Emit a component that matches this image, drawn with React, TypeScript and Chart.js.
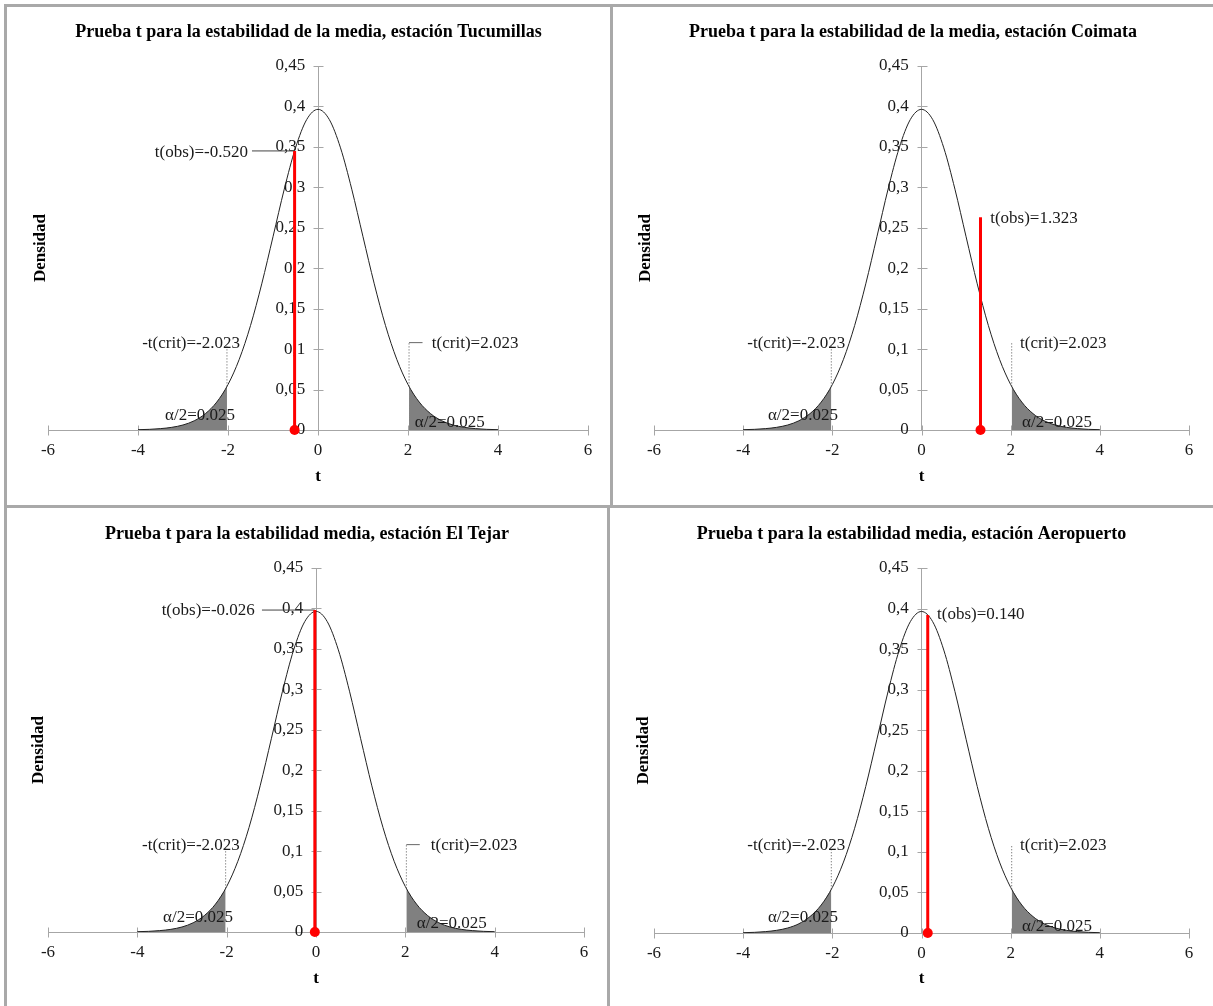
import React, { useEffect, useRef } from "react";
import { Chart, registerables } from "chart.js";

Chart.register(...registerables);

// ---------------- data ----------------
const T_GRID = [
  -4, -3.75, -3.5, -3.25, -3, -2.75, -2.5, -2.25, -2, -1.75, -1.5, -1.25, -1, -0.75, -0.5, -0.25,
  0, 0.25, 0.5, 0.75, 1, 1.25, 1.5, 1.75, 2, 2.25, 2.5, 2.75, 3, 3.25, 3.5, 3.75, 4,
];
const DENSITY = [
  0.0004, 0.0008, 0.0017, 0.0033, 0.0062, 0.0114, 0.0203, 0.0345, 0.0562, 0.0874, 0.1291, 0.1807,
  0.2389, 0.2977, 0.3488, 0.3839, 0.3964, 0.3839, 0.3488, 0.2977, 0.2389, 0.1807, 0.1291, 0.0874,
  0.0562, 0.0345, 0.0203, 0.0114, 0.0062, 0.0033, 0.0017, 0.0008, 0.0004,
];
const T_CRIT = 2.023;
const DENSITY_AT_CRIT = 0.0539;
const CRIT_LEADER_TOP_LEFT = 0.105;
const CRIT_LEADER_TOP_RIGHT = 0.108;

const X_TICKS = [-6, -4, -2, 0, 2, 4, 6];
const X_TICK_LABELS = ["-6", "-4", "-2", "0", "2", "4", "6"];
const Y_TICKS = [0, 0.05, 0.1, 0.15, 0.2, 0.25, 0.3, 0.35, 0.4, 0.45];
const Y_TICK_LABELS = ["0", "0,05", "0,1", "0,15", "0,2", "0,25", "0,3", "0,35", "0,4", "0,45"];

const TITLES = [
  "Prueba t para la estabilidad de la media, estación Tucumillas",
  "Prueba t para la estabilidad de la media, estación Coimata",
  "Prueba t para la estabilidad media, estación El Tejar",
  "Prueba t para la estabilidad media, estación Aeropuerto",
];
const T_OBS = [-0.52, 1.323, -0.026, 0.14];
const T_OBS_LABELS = ["t(obs)=-0.520", "t(obs)=1.323", "t(obs)=-0.026", "t(obs)=0.140"];
const T_OBS_LINE_TOP = [0.345, 0.263, 0.398, 0.392];
const CRIT_LEFT_LABEL = "-t(crit)=-2.023";
const CRIT_RIGHT_LABEL = "t(crit)=2.023";
const ALPHA_LABEL = "α/2=0.025";
const X_TITLE = "t";
const Y_TITLE = "Densidad";

// ---------------- layout / style ----------------
type PanelCfg = {
  left: number; top: number; width: number; height: number;
  area: { l: number; r: number; t: number; b: number };
  critL: [number, number]; critR: [number, number]; hook: boolean;
  alphaL: [number, number]; alphaR: [number, number];
  obsAt: [number, number]; obsAlign: "left" | "right"; obsLeaderFrom: number | null;
  yTitleX: number; xTitleY: number; titleY: number;
};

const PANELS: PanelCfg[] = [
  {
    left: 7, top: 7, width: 603, height: 498, area: { l: 41, r: 581, t: 59, b: 423 },
    critL: [-2.82, 0.1075], critR: [2.53, 0.1075], hook: true,
    alphaL: [-2.62, 0.0185], alphaR: [2.93, 0.0087],
    obsAt: [-1.556, 0.3436], obsAlign: "right", obsLeaderFrom: -1.467,
    yTitleX: 34, xTitleY: 470, titleY: 25,
  },
  {
    left: 613, top: 7, width: 600, height: 498, area: { l: 41, r: 576, t: 59, b: 423 },
    critL: [-2.81, 0.1075], critR: [2.21, 0.1075], hook: false,
    alphaL: [-2.66, 0.0185], alphaR: [3.04, 0.0087],
    obsAt: [1.54, 0.261], obsAlign: "left", obsLeaderFrom: null,
    yTitleX: 33, xTitleY: 470, titleY: 25,
  },
  {
    left: 7, top: 508, width: 600, height: 498, area: { l: 41, r: 577, t: 60, b: 424 },
    critL: [-2.8, 0.1075], critR: [2.57, 0.1075], hook: true,
    alphaL: [-2.64, 0.0185], alphaR: [3.04, 0.0099],
    obsAt: [-1.37, 0.398], obsAlign: "right", obsLeaderFrom: -1.21,
    yTitleX: 32, xTitleY: 471, titleY: 26,
  },
  {
    left: 610, top: 508, width: 603, height: 498, area: { l: 44, r: 579, t: 60, b: 425 },
    critL: [-2.81, 0.1075], critR: [2.21, 0.1075], hook: false,
    alphaL: [-2.66, 0.0185], alphaR: [3.04, 0.0074],
    obsAt: [0.35, 0.393], obsAlign: "left", obsLeaderFrom: null,
    yTitleX: 34, xTitleY: 471, titleY: 26,
  },
];

const FONT = '"Liberation Serif", "Times New Roman", serif';
const AXIS_COLOR = "#a6a6a6";
const TEXT_COLOR = "#1a1a1a";
const SHADE = "#808080";
const RED = "#ff0000";
const BORDER = "#a9a9a9";
const X_AXIS_BOX = 40;

function Panel({ idx }: { idx: number }) {
  const ref = useRef<HTMLCanvasElement | null>(null);
  const cfg = PANELS[idx];

  useEffect(() => {
    const canvas = ref.current;
    if (!canvas) return;

    const curve = T_GRID.map((t, i) => ({ x: t, y: DENSITY[i] }));
    const leftTail = [
      ...curve.filter((p) => p.x < -T_CRIT),
      { x: -T_CRIT, y: DENSITY_AT_CRIT },
    ];
    const rightTail = [
      { x: T_CRIT, y: DENSITY_AT_CRIT },
      ...curve.filter((p) => p.x > T_CRIT),
    ];
    const tobs = T_OBS[idx];

    const overlay = {
      id: "overlay" + idx,
      afterDraw(chart: any) {
        const ctx = chart.ctx as CanvasRenderingContext2D;
        const xs = chart.scales.x;
        const ys = chart.scales.y;
        const px = (v: number) => xs.getPixelForValue(v);
        const py = (v: number) => ys.getPixelForValue(v);
        ctx.save();
        // title
        ctx.fillStyle = "#000";
        ctx.font = `bold 18px ${FONT}`;
        ctx.textAlign = "center";
        ctx.textBaseline = "middle";
        ctx.fillText(TITLES[idx], chart.width / 2, cfg.titleY);

        // axis titles
        ctx.font = `bold 17px ${FONT}`;
        ctx.fillText(X_TITLE, px(0), cfg.xTitleY);
        ctx.save();
        ctx.translate(cfg.yTitleX, (py(0) + py(0.45)) / 2);
        ctx.rotate(-Math.PI / 2);
        ctx.fillText(Y_TITLE, 0, 0);
        ctx.restore();

        // annotations
        ctx.fillStyle = TEXT_COLOR;
        ctx.font = `17px ${FONT}`;
        ctx.textAlign = "center";
        ctx.fillText(CRIT_LEFT_LABEL, px(cfg.critL[0]), py(cfg.critL[1]));
        ctx.textAlign = "left";
        ctx.fillText(CRIT_RIGHT_LABEL, px(cfg.critR[0]), py(cfg.critR[1]));
        ctx.textAlign = "center";
        ctx.fillText(ALPHA_LABEL, px(cfg.alphaL[0]), py(cfg.alphaL[1]));
        ctx.fillText(ALPHA_LABEL, px(cfg.alphaR[0]), py(cfg.alphaR[1]));
        ctx.textAlign = cfg.obsAlign;
        ctx.fillText(T_OBS_LABELS[idx], px(cfg.obsAt[0]), py(cfg.obsAt[1]));
        ctx.restore();
      },
      beforeDatasetsDraw(chart: any) {
        // tick marks crossing the axes
        const ctx = chart.ctx as CanvasRenderingContext2D;
        const xs = chart.scales.x;
        const ys = chart.scales.y;
        ctx.save();
        ctx.strokeStyle = AXIS_COLOR;
        ctx.lineWidth = 1;
        const x0 = Math.round(xs.getPixelForValue(0)) + 0.5;
        const y0 = Math.round(ys.getPixelForValue(0)) + 0.5;
        ctx.beginPath();
        Y_TICKS.forEach((v) => {
          const yy = Math.round(ys.getPixelForValue(v)) + 0.5;
          ctx.moveTo(x0 - 5, yy);
          ctx.lineTo(x0 + 5, yy);
        });
        X_TICKS.forEach((v) => {
          const xx = Math.round(xs.getPixelForValue(v)) + 0.5;
          ctx.moveTo(xx, y0 - 5);
          ctx.lineTo(xx, y0 + 5);
        });
        ctx.stroke();
        ctx.restore();
      },
    };

    const datasets: any[] = [
      {
        data: [{ x: tobs, y: 0 }, { x: tobs, y: T_OBS_LINE_TOP[idx] }],
        borderColor: RED,
        borderWidth: 3,
        pointRadius: [5, 0],
        pointBackgroundColor: RED,
        pointBorderWidth: 0,
        clip: false,
        tension: 0,
      },
      {
        data: [{ x: -T_CRIT, y: DENSITY_AT_CRIT }, { x: -T_CRIT, y: CRIT_LEADER_TOP_LEFT }],
        borderColor: "#555",
        borderWidth: 1,
        borderDash: [1, 2],
        pointRadius: 0,
        tension: 0,
      },
      {
        data: [{ x: T_CRIT, y: DENSITY_AT_CRIT }, { x: T_CRIT, y: CRIT_LEADER_TOP_RIGHT }],
        borderColor: "#555",
        borderWidth: 1,
        borderDash: [1, 2],
        pointRadius: 0,
        tension: 0,
      },
      {
        data: curve,
        borderColor: "#222",
        borderWidth: 1,
        pointRadius: 0,
        cubicInterpolationMode: "monotone",
      },
      {
        data: leftTail,
        borderWidth: 0,
        borderColor: "rgba(0,0,0,0)",
        backgroundColor: SHADE,
        fill: "origin",
        pointRadius: 0,
        cubicInterpolationMode: "monotone",
      },
      {
        data: rightTail,
        borderWidth: 0,
        borderColor: "rgba(0,0,0,0)",
        backgroundColor: SHADE,
        fill: "origin",
        pointRadius: 0,
        cubicInterpolationMode: "monotone",
      },
    ];
    if (cfg.hook) {
      datasets.splice(3, 0, {
        data: [{ x: T_CRIT, y: CRIT_LEADER_TOP_RIGHT }, { x: T_CRIT + 0.3, y: CRIT_LEADER_TOP_RIGHT }],
        borderColor: "#666",
        borderWidth: 1,
        pointRadius: 0,
        tension: 0,
      });
    }
    if (cfg.obsLeaderFrom !== null) {
      datasets.splice(1, 0, {
        data: [{ x: cfg.obsLeaderFrom, y: T_OBS_LINE_TOP[idx] }, { x: tobs, y: T_OBS_LINE_TOP[idx] }],
        borderColor: "#444",
        borderWidth: 1,
        pointRadius: 0,
        tension: 0,
      });
    }

    const chart = new Chart(canvas, {
      type: "line",
      data: { datasets },
      options: {
        animation: false,
        responsive: false,
        maintainAspectRatio: false,
        events: [],
        layout: {
          padding: {
            left: cfg.area.l,
            right: cfg.width - cfg.area.r,
            top: cfg.area.t,
            bottom: cfg.height - cfg.area.b - X_AXIS_BOX,
          },
        },
        plugins: { legend: { display: false }, tooltip: { enabled: false }, title: { display: false } },
        scales: {
          x: {
            type: "linear",
            min: -6,
            max: 6,
            afterFit: (s: any) => { s.height = X_AXIS_BOX; },
            afterBuildTicks: (s: any) => { s.ticks = X_TICKS.map((v) => ({ value: v })); },
            ticks: {
              callback: (v: any) => X_TICK_LABELS[X_TICKS.indexOf(Number(v))] ?? "",
              font: { family: FONT, size: 17 },
              color: TEXT_COLOR,
              padding: 10,
              maxRotation: 0,
              autoSkip: false,
            },
            grid: { display: false, drawTicks: false },
            border: { display: true, color: AXIS_COLOR, width: 1 },
          },
          y: {
            type: "linear",
            position: { x: 0 } as any,
            min: 0,
            max: 0.45,
            afterFit: (s: any) => { s.width = 0; },
            afterBuildTicks: (s: any) => { s.ticks = Y_TICKS.map((v) => ({ value: v })); },
            ticks: {
              callback: (v: any) => {
                const i = Y_TICKS.findIndex((t) => Math.abs(t - Number(v)) < 1e-9);
                return i >= 0 ? Y_TICK_LABELS[i] + "   " : "";
              },
              font: { family: FONT, size: 17 },
              color: TEXT_COLOR,
              autoSkip: false,
            },
            grid: { display: false, drawTicks: false },
            border: { display: true, color: AXIS_COLOR, width: 1 },
          },
        },
      } as any,
      plugins: [overlay],
    });
    return () => chart.destroy();
  }, [idx]);

  return (
    <canvas
      ref={ref}
      width={cfg.width}
      height={cfg.height}
      style={{ position: "absolute", left: cfg.left, top: cfg.top, width: cfg.width, height: cfg.height }}
    />
  );
}

export default function App() {
  const line = (l: number, t: number, w: number, h: number) => (
    <div style={{ position: "absolute", left: l, top: t, width: w, height: h, background: BORDER }} />
  );
  return (
    <div
      style={{
        position: "fixed",
        left: 0,
        top: 0,
        width: 1213,
        height: 1006,
        background: "#fff",
        overflow: "hidden",
      }}
    >
      {PANELS.map((_, i) => (
        <Panel key={i} idx={i} />
      ))}
      {line(4, 4, 1209, 3)}
      {line(4, 4, 3, 1002)}
      {line(610, 4, 3, 504)}
      {line(4, 505, 1209, 3)}
      {line(607, 505, 3, 501)}
    </div>
  );
}
